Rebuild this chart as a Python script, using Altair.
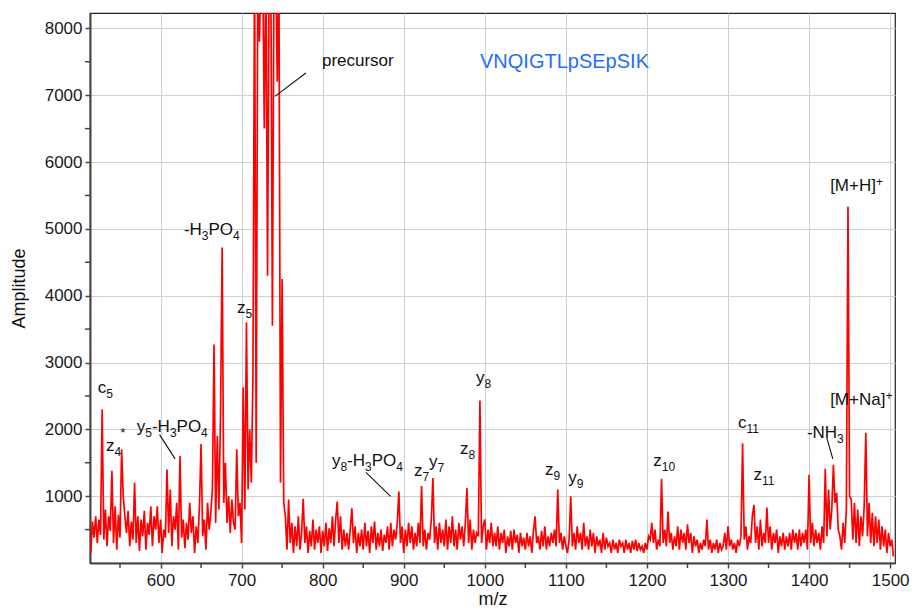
import altair as alt
import numpy as np
import pandas as pd

# ---- spectrum: amplitudes sampled every 2 m/z starting at 514 ----
MZ_START = 514
MZ_STEP = 2

# 514 - 712
amp_low = [
    150, 620, 380, 700, 300, 650, 420, 2300, 350, 800,
    250, 700, 480, 1380, 300, 850, 200, 720, 380, 1700,
    1000, 700, 450, 780, 250, 620, 350, 1200, 300, 700,
    180, 650, 400, 780, 200, 600, 420, 850, 250, 700,
    500, 850, 300, 650, 150, 500, 380, 1400, 450, 1100,
    250, 700, 500, 900, 200, 1600, 380, 650, 220, 600,
    350, 900, 450, 700, 150, 550, 300, 850, 1780, 400,
    650, 200, 900, 500, 750, 1100, 3270, 600, 1900, 800,
    2200, 4720, 900, 1500, 600, 1000, 450, 950, 600, 500,
    1700, 700, 900, 300, 2630, 800, 3600, 1100, 2000, 1200,
]
# 714 - 752 (precursor, runs off the top of the scale)
amp_precursor = [
    2800, 9000, 1500, 9000, 7800, 9000, 9000, 6500, 9000, 4300,
    9000, 9000, 3550, 9000, 9000, 7200, 9000, 1200, 4250, 900,
]
# 754 - 1112
amp_mid = [
    700, 200, 950, 300, 600, 150, 550, 250, 700, 200,
    450, 960, 300, 550, 150, 480, 250, 650, 200, 500,
    300, 550, 150, 480, 250, 600, 180, 520, 300, 700,
    250, 650, 920, 300, 700, 200, 500, 250, 450, 200,
    500, 820, 300, 550, 150, 450, 250, 500, 200, 600,
    250, 480, 150, 550, 300, 620, 200, 450, 250, 500,
    180, 420, 300, 550, 200, 600, 250, 500, 350, 600,
    1070, 300, 550, 150, 500, 250, 600, 300, 550, 200,
    450, 250, 600, 300, 1150, 250, 500, 200, 450, 350,
    650, 1270, 300, 550, 200, 600, 300, 500, 250, 650,
    200, 550, 300, 700, 250, 500, 200, 600, 350, 550,
    250, 600, 1120, 300, 650, 200, 500, 300, 450, 400,
    2430, 300, 550, 650, 200, 500, 300, 600, 250, 450,
    250, 550, 200, 450, 300, 500, 150, 400, 250, 480,
    200, 500, 300, 420, 150, 450, 250, 380, 200, 450,
    250, 400, 150, 480, 700, 300, 400, 200, 480, 250,
    550, 200, 400, 250, 450, 300, 500, 250, 1100, 300,
    450, 200, 400, 250, 150, 350, 1000, 250, 450, 200,
]
# 1114 - 1504
amp_high = [
    550, 300, 450, 200, 600, 250, 400, 200, 500, 250,
    450, 150, 400, 250, 350, 150, 450, 200, 380, 250,
    300, 150, 350, 200, 300, 150, 350, 250, 300, 150,
    350, 200, 300, 150, 330, 200, 350, 180, 300, 200,
    250, 150, 300, 200, 400, 350, 600, 300, 500, 200,
    350, 250, 1260, 300, 500, 250, 770, 300, 450, 200,
    400, 250, 550, 200, 500, 300, 450, 200, 580, 300,
    450, 150, 400, 250, 350, 150, 300, 200, 350, 250,
    650, 200, 350, 150, 300, 200, 350, 150, 300, 200,
    250, 450, 200, 550, 250, 350, 200, 300, 150, 350,
    250, 400, 1790, 350, 550, 200, 400, 300, 700, 870,
    300, 550, 200, 650, 250, 450, 300, 830, 300, 550,
    200, 450, 300, 500, 150, 400, 250, 450, 200, 400,
    250, 450, 200, 500, 300, 450, 200, 500, 250, 450,
    300, 500, 200, 1320, 300, 600, 250, 500, 300, 450,
    200, 550, 300, 1410, 400, 1100, 500, 800, 1470, 900,
    1050, 500, 400, 200, 600, 300, 800, 5330, 1000, 950,
    350, 900, 300, 800, 250, 700, 400, 850, 1950, 400,
    900, 300, 750, 250, 700, 300, 650, 200, 550, 250,
    500, 150, 450, 250, 350, 100,
]

assert len(amp_low) == 100 and len(amp_precursor) == 20
assert len(amp_mid) == 180 and len(amp_high) == 196

amp = amp_low + amp_precursor + amp_mid + amp_high
mz = MZ_START + MZ_STEP * np.arange(len(amp))
spectrum = pd.DataFrame({"mz": mz, "amp": amp})

# ---- axis tick positions ----
x_major = list(range(600, 1501, 100))
x_minor = list(range(550, 1501, 100))
y_major = list(range(1000, 8001, 1000))
y_minor = list(range(500, 8001, 1000))

# ---- peak annotations: "_" marks a subscript, "^" a superscript ----
label_markup = [
    "c_5", "z_4", "y_5-H_3PO_4", "-H_3PO_4", "z_5", "precursor",
    "y_8-H_3PO_4", "z_7", "y_7", "z_8", "y_8", "z_9", "y_9",
    "z_10", "c_11", "z_11", "-NH_3", "[M+Na]^+", "[M+H]^+",
]
# left edge / baseline of each label, in data units
label_mz = [
    522.6, 532.6, 570.7, 628.8, 694.2, 799.1,
    811.4, 912.6, 931.1, 969.4, 989.1, 1074.3, 1103.0,
    1207.9, 1312.4, 1331.3, 1397.3, 1426.0, 1426.0,
]
label_amp = [
    2550, 1680, 1960, 4914, 3747, 7443,
    1457, 1297, 1440, 1637, 2700, 1323, 1203,
    1447, 2026, 1248, 1877, 2370, 5562,
]

# leader lines from labels to their peaks
leader_mz = [779.3, 598.8, 853.4, 1421.9]
leader_amp = [7333, 1921, 1357, 1872]
leader_mz2 = [741.1, 618.0, 883.8, 1429.3]
leader_amp2 = [6983, 1558, 998, 1558]
leaders = pd.DataFrame({"mz": leader_mz, "amp": leader_amp,
                        "mz2": leader_mz2, "amp2": leader_amp2})

star = pd.DataFrame({"mz": [553.5], "amp": [1880], "text": ["*"]})
sequence = pd.DataFrame({"mz": [994.1], "amp": [7413], "text": ["VNQIGTLpSEpSIK"]})

FONT = "Liberation Sans, Arial, sans-serif"
AXIS_GREY = "#444"
X_DOMAIN = [513, 1506]
Y_DOMAIN = [0, 8230]
PLOT_W, PLOT_H = 805, 550
MAIN_SIZE, SMALL_SIZE = 17, 12

# Arial / Liberation Sans advance widths (em) for laying out label pieces
ADVANCE = {"c": .5, "z": .5, "y": .5, "H": .722, "P": .667, "O": .778,
           "N": .722, "-": .333, "[": .278, "]": .278, "M": .833, "+": .584,
           "a": .556, "p": .556, "r": .333, "e": .556, "u": .556, "s": .5,
           "o": .556}


def split_markup(s):
    """Split 'H_3PO_4' style markup into (text, kind) pieces."""
    pieces, buf, i = [], "", 0
    while i < len(s):
        ch = s[i]
        if ch in "_^":
            if buf:
                pieces.append((buf, "main"))
                buf = ""
            j = i + 1
            if ch == "_":
                while j < len(s) and s[j].isdigit():
                    j += 1
            else:
                j = i + 2
            pieces.append((s[i + 1:j], "sub" if ch == "_" else "sup"))
            i = j
        else:
            buf += ch
            i += 1
    if buf:
        pieces.append((buf, "main"))
    return pieces


def text_width(text, size):
    return sum(ADVANCE.get(ch, .556) for ch in text) * size


px_per_mz = PLOT_W / (X_DOMAIN[1] - X_DOMAIN[0])
rows = []
for markup, lmz, lamp in zip(label_markup, label_mz, label_amp):
    offset = 0.0
    for text, kind in split_markup(markup):
        size = MAIN_SIZE if kind == "main" else SMALL_SIZE
        rows.append({"mz": lmz + offset / px_per_mz, "amp": lamp,
                     "text": text, "kind": kind})
        offset += text_width(text, size)
label_pieces = pd.DataFrame(rows)

x_scale = alt.Scale(domain=X_DOMAIN, nice=False, zero=False)
y_scale = alt.Scale(domain=Y_DOMAIN, nice=False)

x_axis = alt.Axis(title="m/z", values=x_major, format="d")
y_axis = alt.Axis(title="Amplitude", values=y_major, format="d")

line = alt.Chart(spectrum).mark_line(
    color="#FF0000", strokeWidth=1.7, clip=True, interpolate="linear"
).encode(
    x=alt.X("mz:Q", scale=x_scale, axis=x_axis),
    y=alt.Y("amp:Q", scale=y_scale, axis=y_axis),
)

# minor ticks between the labelled ones
x_minor_ticks = alt.Chart(pd.DataFrame({"mz": x_minor})).mark_rule(
    color=AXIS_GREY, strokeWidth=1.5
).encode(
    x=alt.X("mz:Q", scale=x_scale),
    y=alt.value(PLOT_H),
    y2=alt.value(PLOT_H + 5),
)
y_minor_ticks = alt.Chart(pd.DataFrame({"amp": y_minor})).mark_rule(
    color=AXIS_GREY, strokeWidth=1.5
).encode(
    y=alt.Y("amp:Q", scale=y_scale),
    x=alt.value(-5),
    x2=alt.value(0),
)

leader_rules = alt.Chart(leaders).mark_rule(color="#111", strokeWidth=1.1).encode(
    x=alt.X("mz:Q", scale=x_scale),
    y=alt.Y("amp:Q", scale=y_scale),
    x2="mz2:Q",
    y2="amp2:Q",
)


def label_layer(kind, size, dy):
    return alt.Chart(label_pieces[label_pieces["kind"] == kind]).mark_text(
        align="left", baseline="alphabetic", font=FONT, fontSize=size,
        color="#111", dy=dy
    ).encode(
        x=alt.X("mz:Q", scale=x_scale),
        y=alt.Y("amp:Q", scale=y_scale),
        text="text:N",
    )


main_labels = label_layer("main", MAIN_SIZE, 0)
sub_labels = label_layer("sub", SMALL_SIZE, 5)
sup_labels = label_layer("sup", SMALL_SIZE, -5)

star_mark = alt.Chart(star).mark_text(
    align="center", baseline="alphabetic", font=FONT, fontSize=13, color="#111"
).encode(
    x=alt.X("mz:Q", scale=x_scale),
    y=alt.Y("amp:Q", scale=y_scale),
    text="text:N",
)

sequence_mark = alt.Chart(sequence).mark_text(
    align="left", baseline="alphabetic", font=FONT, fontSize=20, color="#1E6EFF"
).encode(
    x=alt.X("mz:Q", scale=x_scale),
    y=alt.Y("amp:Q", scale=y_scale),
    text="text:N",
)

chart = alt.layer(
    line, x_minor_ticks, y_minor_ticks, leader_rules,
    main_labels, sub_labels, sup_labels, star_mark, sequence_mark
).properties(
    width=PLOT_W,
    height=PLOT_H,
    autosize=alt.AutoSizeParams(type="none"),
    padding={"left": 90, "top": 13, "right": 19, "bottom": 48},
    background="white",
).configure_view(
    stroke="#222", strokeWidth=1.2
).configure_axis(
    labelFont=FONT,
    labelFontSize=17,
    labelColor="#1a1a1a",
    titleFont=FONT,
    titleFontSize=18,
    titleFontWeight="normal",
    titleColor="#111",
    domainColor=AXIS_GREY,
    domainWidth=2,
    tickColor=AXIS_GREY,
    tickWidth=1.5,
    tickSize=5,
    gridColor="#cfcfcf",
    gridWidth=1,
    labelOverlap=False,
).configure_axisX(
    labelPadding=4, titlePadding=2
).configure_axisY(
    labelPadding=3, titlePadding=16
)

chart.save("out.html", embed_options={"renderer": "svg", "actions": False})
